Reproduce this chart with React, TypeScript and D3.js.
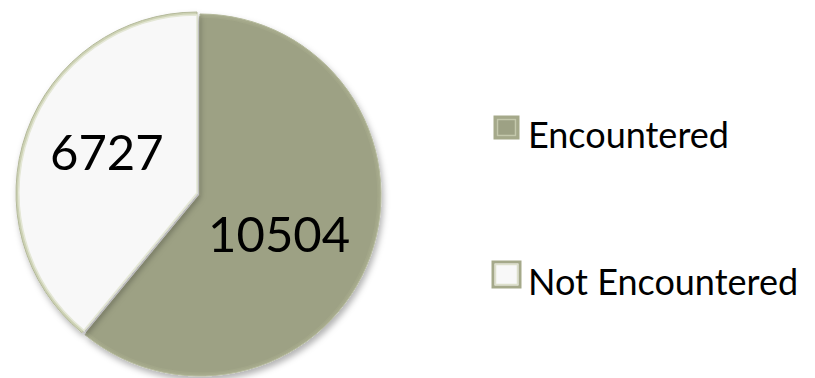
import React from "react";
import * as d3 from "d3";

const categories = ["Encountered", "Not Encountered"];
const values = [10504, 6727];
const colors = ["#9DA184", "#F8F8F8"];

export default function App() {
  const W = 815, H = 378;
  const cx = 200, cy = 195, r = 181;
  const pie = d3.pie<number>().sort(null).value((d) => d);
  const arcs = pie(values);
  const arc = d3.arc<d3.PieArcDatum<number>>().innerRadius(0).outerRadius(r);
  const innerArc = d3.arc<d3.PieArcDatum<number>>().innerRadius(0).outerRadius(r - 3);
  const labelArc = d3.arc<d3.PieArcDatum<number>>().innerRadius(100).outerRadius(100);
  const offsets = [[0, 0], [-3, -2]];
  const font = "Lato, 'Open Sans', sans-serif";
  const legendY = d3.scalePoint<string>().domain(categories).range([135, 282]);
  return (
    <svg width={W} height={H} style={{ position: "absolute", left: 0, top: 0, background: "#fff" }}>
      <defs>
        <filter id="sh" x="-20%" y="-20%" width="140%" height="140%">
          <feDropShadow dx="2" dy="4" stdDeviation="3" floodColor="#000" floodOpacity="0.3" />
        </filter>
      </defs>
      <g transform={`translate(${cx},${cy})`}>
        {arcs.map((a, i) => (
          <g key={i} transform={`translate(${offsets[i][0]},${offsets[i][1]})`} filter="url(#sh)">
            <path d={arc(a) || ""} fill={i === 0 ? "#A6AA8C" : "#CDD2B4"} stroke="#B4B99B" strokeWidth={1} />
            <path d={innerArc(a) || ""} fill={colors[i]} stroke={i === 0 ? "#A2A688" : "#E4E7D6"} strokeWidth={1.5} />
          </g>
        ))}
        {arcs.map((a, i) => {
          const [x, y] = labelArc.centroid(a);
          return (
            <text key={i} x={x + (i === 0 ? -15 : 1)} y={y + (i === 0 ? 4 : -10)} textAnchor="middle" dominantBaseline="central"
              fontFamily={font} fontSize={49} fill="#000">
              {values[i]}
            </text>
          );
        })}
      </g>
      {categories.map((c, i) => {
        const y = legendY(c) as number;
        const s = i === 0 ? 23 : 27;
        return (
          <g key={c}>
            <rect x={495 - (i === 0 ? 0 : 2)} y={y - 18 - (i === 0 ? 0 : 2)} width={s} height={s - 2} fill={colors[i]} stroke="#A5A98A" strokeWidth={3} />
            <rect x={497.5 - (i === 0 ? 0 : 2)} y={y - 15.5 - (i === 0 ? 0 : 2)} width={s - 5} height={s - 7} fill="none" stroke={i === 0 ? "#C4C8AC" : "#DDE0CC"} strokeWidth={1.5} />
            <text x={528} y={y + 13} fontFamily={font} fontSize={36} fill="#000">{c}</text>
          </g>
        );
      })}
    </svg>
  );
}
